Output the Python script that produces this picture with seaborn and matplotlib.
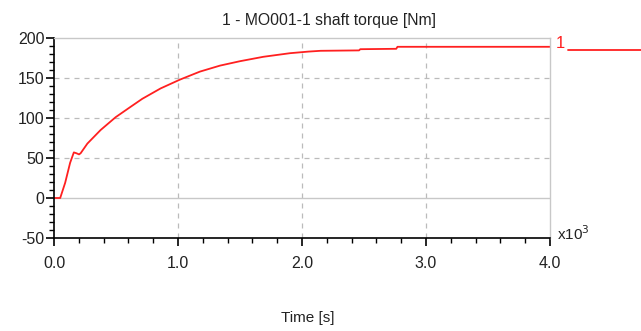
import matplotlib
matplotlib.use("Agg")
import matplotlib.pyplot as plt
from matplotlib.ticker import MultipleLocator, FixedLocator
import seaborn as sns
import pandas as pd

# Data (time in seconds, torque in Nm)
time_s = [0, 50, 90, 130, 160, 180, 202, 215, 269, 376, 497, 618, 712, 860,
          1016, 1177, 1339, 1500, 1688, 1903, 2051, 2150, 2460, 2470, 2760, 2770, 4000]
torque = [0, 0, 19, 44, 57, 56, 54.5, 56, 68, 85, 101, 114, 124, 137,
          148, 158, 165.5, 171, 176.5, 181, 183, 184, 184.5, 186, 186.5, 189, 189]
title = "1 - MO001-1 shaft torque [Nm]"
xlabel = "Time [s]"
series_label = "1"
xticks = [0, 1000, 2000, 3000, 4000]
xticklabels = ["0.0", "1.0", "2.0", "3.0", "4.0"]
yticks = [-50, 0, 50, 100, 150, 200]

sns.set_style("white")
plt.rcParams['font.family'] = ['Liberation Sans', 'DejaVu Sans']
plt.rcParams['axes.unicode_minus'] = False

df = pd.DataFrame({"t": time_s, "v": torque})

fig = plt.figure(figsize=(6.41, 3.31), dpi=100)
ax = fig.add_axes([54/641, 93/331, 496/641, 200/331])

sns.lineplot(data=df, x="t", y="v", ax=ax, color="#ff2020", linewidth=1.3)

ax.set_xlim(0, 4000)
ax.set_ylim(-50, 200)
ax.xaxis.set_major_locator(FixedLocator(xticks))
ax.set_xticklabels(xticklabels)
ax.xaxis.set_minor_locator(MultipleLocator(200))
ax.yaxis.set_major_locator(FixedLocator(yticks))
ax.yaxis.set_minor_locator(MultipleLocator(10))

# grid
for xv in [1000, 2000, 3000]:
    ax.axvline(xv, color="#bbbbbb", lw=0.9, ls=(0, (4, 4)), zorder=0)
for yv in [50, 100, 150]:
    ax.axhline(yv, color="#bbbbbb", lw=0.9, ls=(0, (4, 4)), zorder=0)
ax.axhline(0, color="#c8c8c8", lw=1.0, zorder=0)

for s in ["top", "right"]:
    ax.spines[s].set_color("#c8c8c8")
    ax.spines[s].set_linewidth(1.0)
for s in ["left", "bottom"]:
    ax.spines[s].set_color("black")
    ax.spines[s].set_linewidth(1.2)

ax.tick_params(axis="both", which="both", bottom=True, left=True, top=False, right=False)
ax.tick_params(axis="both", which="major", direction="out", length=6, width=1.2,
               color="black", labelsize=11.5, labelcolor="#222222", pad=1)
ax.tick_params(axis="both", which="minor", direction="out", length=3.5, width=1.0, color="black")
ax.tick_params(axis="x", which="major", pad=7)

ax.set_xlabel("")
ax.set_ylabel("")
fig.text(329/641, 1 - 20/331, title, ha="center", va="center", fontsize=11.3, color="#222222")
fig.text(308/641, 1 - 318/331, xlabel, ha="center", va="center", fontsize=11, color="#222222")
fig.text(557/641, 1 - 234/331, r"x10$^3$", ha="left", va="center", fontsize=11, color="#222222")

# series label and line at right
fig.text(556/641, 1 - 44/331, series_label, ha="left", va="center", fontsize=12, color="#ff2020")
fig.add_artist(plt.Line2D([568/641, 1.0], [1 - 50/331, 1 - 50/331], color="#ff2020", lw=1.3,
                          transform=fig.transFigure))

fig.savefig("out.png", dpi=100)
